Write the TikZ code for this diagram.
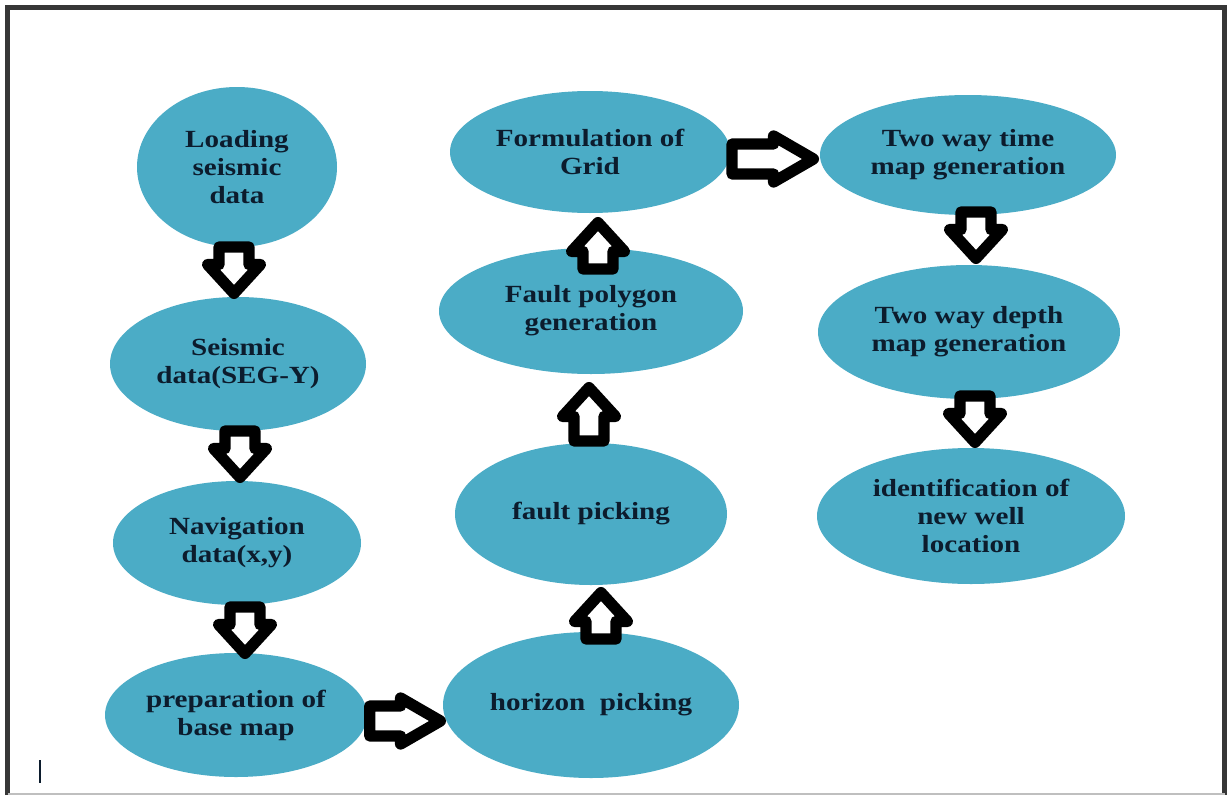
\documentclass[tikz,border=0pt]{standalone}
\usepackage{fontspec}
\setmainfont[FakeStretch=1.18]{Liberation Serif}
\usetikzlibrary{shapes.geometric,shapes.arrows,calc}
\definecolor{myaqua}{RGB}{75,172,198}
\definecolor{mytext}{RGB}{12,28,45}
\definecolor{myframe}{RGB}{55,55,55}

\begin{document}
\begin{tikzpicture}[x=0.75pt,y=-0.75pt,
  stage/.style={ellipse,fill=myaqua,inner sep=0pt,align=center,text=mytext,
    font=\fontsize{18.5}{21}\selectfont\bfseries},
  blockarrow/.style={single arrow,draw=black,fill=white,line width=8.5pt,
    line join=round,inner sep=7pt,minimum width=0pt,minimum height=#1},
  harrow/.style={blockarrow=#1,single arrow head extend=6pt,single arrow tip angle=60},
  varrow/.style={blockarrow=#1,single arrow head extend=8.5pt,single arrow tip angle=85}]

  \fill[white] (0,0) rectangle (1228,796);
  \useasboundingbox (0,0) rectangle (1228,796);

  % frame
  \draw[myframe,line width=3.5pt] (7.5,795) -- (7.5,7.5) -- (1224.5,7.5) -- (1224.5,795);
  \draw[gray!50,line width=2pt] (7.5,794) -- (1224.5,794);

  % left column
  \node[stage,minimum width=150pt,minimum height=120pt] (n1) at (237,167) {Loading\\seismic\\data};
  \node[stage,minimum width=192pt,minimum height=100.5pt] (n2) at (238,364) {Seismic\\data(SEG-Y)};
  \node[stage,minimum width=186pt,minimum height=93pt] (n3) at (237,543) {Navigation\\data(x,y)};
  \node[stage,minimum width=196.5pt,minimum height=93pt] (n4) at (236,715) {preparation of\\base map};

  % middle column
  \node[stage,minimum width=222pt,minimum height=109.5pt] (n5) at (591,705) {horizon\ \ picking};
  \node[stage,minimum width=204pt,minimum height=106.5pt] (n6) at (591,514) {fault picking};
  \node[stage,minimum width=228pt,minimum height=94.5pt] (n7) at (591,311) {Fault polygon\\generation};
  \node[stage,minimum width=210pt,minimum height=91.5pt] (n8) at (590,152) {Formulation of\\Grid};

  % right column
  \node[stage,minimum width=222pt,minimum height=90pt] (n9) at (968,155) {Two way time\\map generation};
  \node[stage,minimum width=226.5pt,minimum height=100.5pt] (n10) at (969,332) {Two way depth\\map generation};
  \node[stage,minimum width=231pt,minimum height=102pt] (n11) at (971,516) {identification of\\new well\\location};

  % block arrows
  \node[varrow=30pt,rotate=-90,anchor=tip] (a12) at ($(n2.north)+(-4,5)$) {};
  \node[varrow=32pt,rotate=-90,anchor=tip] (a23) at ($(n3.north)+(3,5)$) {};
  \node[varrow=33pt,rotate=-90,anchor=tip] (a34) at ($(n4.north)+(9,9)$) {};
  \node[harrow=53pt,anchor=tip] (a45) at ($(n5.west)+(9,16)$) {};
  \node[varrow=30pt,rotate=90,anchor=tip] (a56) at ($(n6.south)+(10,-1)$) {};
  \node[varrow=40pt,rotate=90,anchor=tip] (a67) at ($(n7.south)+(-2,5)$) {};
  \node[varrow=21pt,rotate=90,anchor=tip] (a78) at ($(n8.south)+(8,1)$) {};
  \node[harrow=61pt,anchor=tip] (a89) at ($(n9.west)+(5,4)$) {};
  \node[varrow=33pt,rotate=-90,anchor=tip] (a910) at ($(n10.north)+(7,2)$) {};
  \node[varrow=30pt,rotate=-90,anchor=tip] (a1011) at ($(n11.north)+(4,3)$) {};

  % stray mark
  \draw[line width=2.2pt,mytext] (40,760) -- (40,783);
\end{tikzpicture}
\end{document}
